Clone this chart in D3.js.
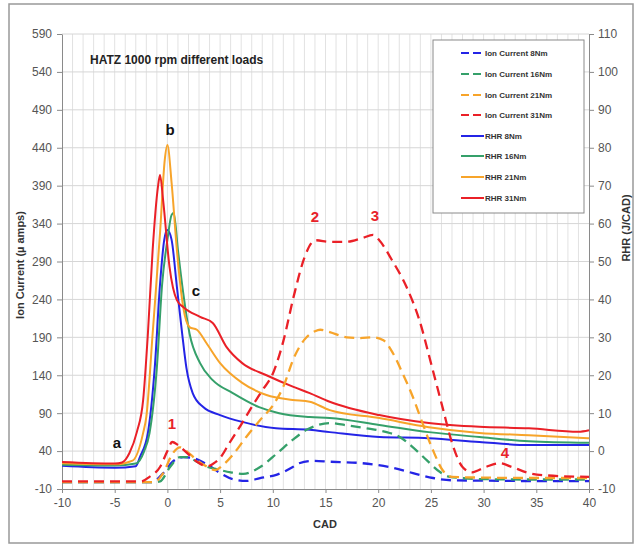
<!DOCTYPE html>
<html>
<head>
<meta charset="utf-8">
<script src="https://cdn.jsdelivr.net/npm/d3@7"></script>
<style>
body { margin: 0; background: #fff; }
text { font-family: "Liberation Sans", Arial, sans-serif; }
</style>
</head>
<body>
<script>
"use strict";

/* tick labels */
var cadTicks = [-10, -5, 0, 5, 10, 15, 20, 25, 30, 35, 40];
var ionTicks = [-10, 40, 90, 140, 190, 240, 290, 340, 390, 440, 490, 540, 590];
var rhrTicks = [-10, 0, 10, 20, 30, 40, 50, 60, 70, 80, 90, 100, 110];

/* ion current (left axis), [CAD, µA] */
var ion8Nm = [[-10,-1],[-1.5,-1],[-0.4,11],[0.5,26],[1.5,32],[2.4,31],[3.8,22],[5,11],[6.2,3],[7.5,0.6],[8.8,4.5],[10.4,9],[11.9,19],[12.5,24],[13.8,27],[15.4,26],[18.5,24],[21,19],[23.3,11],[25.2,4.5],[27,1.5],[30,1],[35,0.5],[40,0.5]];
var ion16Nm = [[-10,-1],[-1.2,-1],[-0.7,0],[0.25,19],[1.2,32],[1.9,32],[2.8,26],[3.8,19],[4.7,16],[6,12],[7.2,10],[8.8,19],[10.4,37],[11.9,55],[13.2,68],[13.8,72],[15.4,77],[17,74],[18.9,70],[20.8,65],[22,59],[23.3,45],[24.6,28],[25.9,12],[26.8,6],[30,3],[35,2.5],[40,2.5]];
var ion21Nm = [[-10,-1],[-1.3,-1],[-0.4,11],[0.5,37],[1.2,45],[1.9,39],[2.8,28],[3.8,19],[4.5,15],[5.3,22],[6.2,35],[7.5,59],[8.8,81],[10,100],[11,125],[12,163],[13,187],[14,198],[14.5,200],[15.4,197],[17,190],[18.3,189],[19.5,190],[20.5,186],[21.4,169],[22.3,143],[23.3,111],[24.2,77],[25.2,41],[26.1,15],[27,6],[30,5],[35,4.5],[40,4.5]];
var ion31Nm = [[-10,0],[-2.5,0],[-1.7,6],[-0.7,19],[0,40],[0.45,52],[1,48],[1.9,37],[2.8,26],[3.8,20],[4.3,23],[5,31],[5.9,51],[7,75],[8,98],[9,120],[10,142],[11,185],[12,245],[13,295],[13.7,315],[14.1,318],[15.4,316],[17,316],[18.5,321],[19.5,325],[20.1,318],[21.3,292],[22.7,256],[23.9,213],[25.1,151],[26.1,98],[27,51],[28,19],[28.9,12],[30.2,19],[31.5,24],[32.7,19],[34.3,11],[35.9,8],[40,6]];

/* rate of heat release (right axis), [CAD, J/CAD] */
var rhr8Nm = [[-10,-3.9],[-5,-4.4],[-3,-4],[-2.6,-1.5],[-1.85,4.8],[-1.2,22],[-0.7,44],[-0.3,55.7],[0,58.3],[0.4,55.7],[0.9,43.3],[1.4,31],[1.8,22],[2.4,15.3],[3.4,11.6],[5,9.5],[7.1,7.7],[10.3,6],[13.5,5.6],[15.4,5],[20.1,3.7],[24.8,3.4],[29.6,2.4],[34.3,1.6],[40,1.6]];
var rhr16Nm = [[-10,-3.6],[-5,-3.8],[-3,-3.3],[-2.2,0],[-1.7,4.7],[-1,22],[-0.5,44],[0,55.7],[0.4,62.3],[0.6,62.8],[1,53],[1.5,41.7],[2.1,31],[3.1,23.2],[4.3,18.7],[6.2,15.3],[8.7,11.6],[10.6,10],[13.5,9],[15.4,8.7],[20.1,6.9],[24.8,5],[29.6,3.7],[34.3,2.6],[40,2.2]];
var rhr21Nm = [[-10,-3.2],[-5,-3.5],[-3.3,-2.5],[-2.3,4.8],[-2,9],[-1.4,31],[-0.7,57.5],[-0.25,76.8],[0,80.7],[0.4,70.7],[0.9,53],[1.5,38],[2.1,32.7],[2.8,32],[3.7,28.5],[5,23.2],[7.1,18],[9.4,14.8],[11.9,13.5],[13.5,13],[15.4,10.8],[20.1,8.7],[24.8,6.3],[29.6,4.8],[34.3,4.2],[40,3.4]];
var rhr31Nm = [[-10,-2.9],[-5,-3.3],[-4.3,-3],[-3.6,-0.5],[-2.9,5],[-2.3,13.5],[-1.85,31],[-1.4,53],[-0.9,69.6],[-0.7,72.8],[-0.4,66],[0.2,48.6],[0.9,39.8],[1.5,38],[3.1,35.4],[4.3,33.8],[5.6,27.5],[7.1,23.2],[9.4,20],[11.9,17],[13.5,15.3],[15.4,13],[20.1,9.5],[24.8,7.4],[29.6,6.4],[34.3,6],[39,5.1],[40,5.5]];

var loadColors = ["#2424e6", "#35a06a", "#f7a42a", "#ea2027"];
var ionSeries = [ion8Nm, ion16Nm, ion21Nm, ion31Nm];
var rhrSeries = [rhr8Nm, rhr16Nm, rhr21Nm, rhr31Nm];
var ionLabels = ["Ion Current 8Nm", "Ion Current 16Nm", "Ion Current 21Nm", "Ion Current 31Nm"];
var rhrLabels = ["RHR 8Nm", "RHR 16Nm", "RHR 21Nm", "RHR 31Nm"];

var width = 635, height = 546;
var plotLeft = 62, plotRight = 589, plotTop = 34, plotBottom = 489;

var svg = d3.select("body").append("svg")
    .attr("width", width)
    .attr("height", height);

// outer frame
svg.append("rect")
    .attr("x", 9).attr("y", 4)
    .attr("width", 624).attr("height", 539)
    .attr("fill", "none")
    .attr("stroke", "#999")
    .attr("stroke-width", 1.5);

var x = d3.scaleLinear().domain([-10, 40]).range([plotLeft, plotRight]);
var yIon = d3.scaleLinear().domain([-10, 590]).range([plotBottom, plotTop]);
var yRhr = d3.scaleLinear().domain([-10, 110]).range([plotBottom, plotTop]);

/* grid: one vertical line per CAD, horizontal at each tick */
svg.append("g").selectAll("line")
    .data(d3.range(-9, 40))
    .enter().append("line")
    .attr("x1", d => x(d)).attr("x2", d => x(d))
    .attr("y1", plotTop).attr("y2", plotBottom)
    .attr("stroke", "#e2e2e2").attr("stroke-width", 1);
svg.append("g").selectAll("line")
    .data(ionTicks.slice(1))
    .enter().append("line")
    .attr("x1", plotLeft).attr("x2", plotRight)
    .attr("y1", d => yIon(d)).attr("y2", d => yIon(d))
    .attr("stroke", "#d6d6d6").attr("stroke-width", 1);

function styleAxis(g) {
    g.select(".domain").attr("stroke", "#8a8a8a");
    g.selectAll(".tick line").attr("stroke", "#8a8a8a");
    g.selectAll(".tick text")
        .attr("fill", "#555")
        .style("font-size", "12px");
}

// plain hyphen minus like the original
var plainFormat = d => String(d);

svg.append("g")
    .attr("transform", "translate(" + plotLeft + ",0)")
    .call(d3.axisLeft(yIon).tickValues(ionTicks).tickFormat(plainFormat)
        .tickSize(5).tickSizeOuter(0).tickPadding(5))
    .call(styleAxis);
svg.append("g")
    .attr("transform", "translate(" + plotRight + ",0)")
    .call(d3.axisRight(yRhr).tickValues(rhrTicks).tickFormat(plainFormat)
        .tickSize(5).tickSizeOuter(0).tickPadding(4))
    .call(styleAxis);
svg.append("g")
    .attr("transform", "translate(0," + plotBottom + ")")
    .call(d3.axisBottom(x).tickValues(cadTicks).tickFormat(plainFormat)
        .tickSize(4).tickSizeOuter(0).tickPadding(5))
    .call(styleAxis);

// axis titles
svg.append("text")
    .attr("transform", "translate(24,265) rotate(-90)")
    .attr("text-anchor", "middle")
    .attr("font-size", 11).attr("font-weight", "bold").attr("fill", "#333")
    .text("Ion Current (µ amps)");
svg.append("text")
    .attr("transform", "translate(630,228) rotate(-90)")
    .attr("text-anchor", "middle")
    .attr("font-size", 11).attr("font-weight", "bold").attr("fill", "#333")
    .text("RHR (J/CAD)");
svg.append("text")
    .attr("x", 325).attr("y", 528)
    .attr("text-anchor", "middle")
    .attr("font-size", 11).attr("font-weight", "bold").attr("fill", "#333")
    .text("CAD");

svg.append("text")
    .attr("x", 90).attr("y", 64)
    .attr("font-size", 12).attr("font-weight", "bold").attr("fill", "#222")
    .text("HATZ 1000 rpm different loads");

var ionLine = d3.line()
    .x(d => x(d[0]))
    .y(d => yIon(d[1]))
    .curve(d3.curveMonotoneX);
var rhrLine = d3.line()
    .x(d => x(d[0]))
    .y(d => yRhr(d[1]))
    .curve(d3.curveMonotoneX);

for (let i = 0; i < rhrSeries.length; i++) {
    svg.append("path")
        .datum(rhrSeries[i])
        .attr("d", rhrLine)
        .attr("fill", "none")
        .attr("stroke", loadColors[i])
        .attr("stroke-width", 2);
}
for (let i = 0; i < ionSeries.length; i++) {
    svg.append("path")
        .datum(ionSeries[i])
        .attr("d", ionLine)
        .attr("fill", "none")
        .attr("stroke", loadColors[i])
        .attr("stroke-width", 2.3)
        .attr("stroke-dasharray", "10,6");
}

// annotations
var notes = [
    ["a", 117, 448, "#111"], ["b", 170, 135, "#111"], ["c", 196, 296, "#111"],
    ["1", 172, 429, "#e8232a"], ["2", 315, 222, "#e8232a"],
    ["3", 375, 221, "#e8232a"], ["4", 505, 458, "#e8232a"]
];
svg.append("g").selectAll("text")
    .data(notes)
    .enter().append("text")
    .attr("x", d => d[1]).attr("y", d => d[2])
    .attr("text-anchor", "middle")
    .attr("font-size", 15).attr("font-weight", "bold")
    .attr("fill", d => d[3])
    .text(d => d[0]);

/* legend */
var legend = svg.append("g");
legend.append("rect")
    .attr("x", 433).attr("y", 40)
    .attr("width", 151).attr("height", 173)
    .attr("fill", "#fff")
    .attr("stroke", "#8a8a8a");
var rowY = [53, 74, 95, 115, 136, 156, 177, 198];
var entries = ionLabels.map((t, i) => [t, loadColors[i], true])
    .concat(rhrLabels.map((t, i) => [t, loadColors[i], false]));
entries.forEach(function(e, i) {
    legend.append("line")
        .attr("x1", 461).attr("x2", 484)
        .attr("y1", rowY[i]).attr("y2", rowY[i])
        .attr("stroke", e[1])
        .attr("stroke-width", 2)
        .attr("stroke-dasharray", e[2] ? "8,4" : null);
    legend.append("text")
        .attr("x", 485).attr("y", rowY[i] + 3)
        .attr("font-size", 8).attr("font-weight", "bold").attr("fill", "#333")
        .text(e[0]);
});
</script>
</body>
</html>
